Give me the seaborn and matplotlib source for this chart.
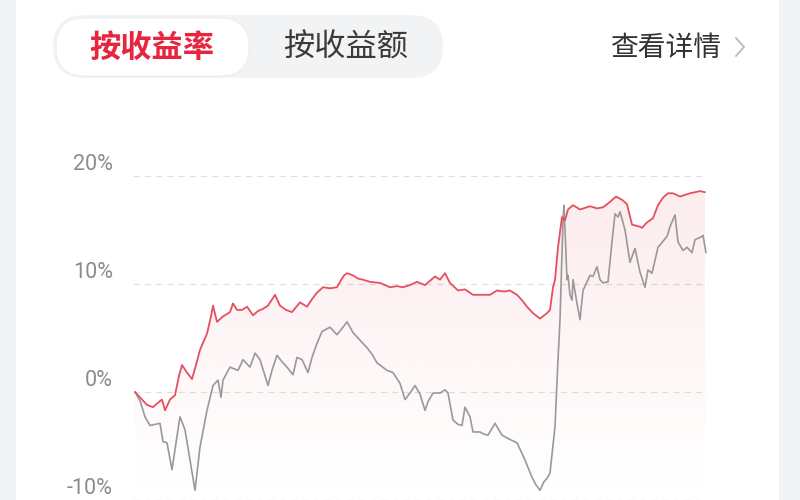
import numpy as np
import matplotlib
matplotlib.use("Agg")
import matplotlib.pyplot as plt
import seaborn as sns
import pandas as pd
from matplotlib.patches import FancyBboxPatch, Rectangle, Polygon

# ---------------- data ----------------
tabs = ["按收益率", "按收益额"]
detail_text = "查看详情"
y_ticks = [20, 10, 0, -10]
y_tick_labels = ["20%", "10%", "0%", "-10%"]

red_days = [0, 5, 12, 18, 23, 27, 30, 35, 40, 44, 47, 52, 57, 61, 65, 72, 76, 78, 82, 88,
            95, 98, 102, 107, 112, 118, 123, 128, 133, 140, 145, 151, 157, 165, 172, 177, 182, 188, 195, 202,
            205, 209, 212, 218, 223, 228, 235, 245, 250, 255, 262, 268, 275, 282, 290, 295, 300, 305, 310, 315,
            323, 330, 338, 347, 355, 362, 369, 375, 382, 387, 392, 398, 405, 412, 415, 418, 420, 423, 427, 430,
            433, 438, 445, 455, 462, 468, 475, 481, 487, 492, 497, 505, 507, 512, 518, 523, 528, 533, 538, 545,
            555, 565, 570]
red_vals = [0.0, -0.5, -1.2, -1.4, -1.0, -0.7, -1.7, -0.7, -0.3, 1.5, 2.5, 1.8, 1.2, 2.5, 3.9, 5.4, 7.0, 8.0, 6.5, 7.0,
            7.4, 8.2, 7.6, 7.6, 7.9, 7.1, 7.5, 7.7, 8.0, 9.0, 8.0, 7.6, 7.4, 8.3, 7.9, 8.6, 9.2, 9.7, 9.6, 9.7,
            10.2, 10.8, 11.0, 10.8, 10.5, 10.4, 10.2, 10.1, 9.9, 9.7, 9.8, 9.7, 9.9, 10.2, 9.9, 10.3, 10.7, 10.4, 11.0, 10.1,
            9.4, 9.5, 9.0, 9.0, 9.0, 9.4, 9.3, 9.4, 9.0, 8.5, 7.9, 7.3, 6.8, 7.3, 7.6, 9.7, 10.4, 13.4, 16.2, 15.9,
            16.9, 17.3, 16.9, 17.2, 17.0, 17.1, 17.6, 18.1, 17.8, 17.4, 15.5, 15.3, 15.2, 15.7, 16.1, 17.3, 18.0, 18.4, 18.4, 18.1,
            18.4, 18.6, 18.5]

gray_days = [0, 5, 10, 15, 20, 25, 28, 32, 37, 42, 45, 50, 55, 60, 65, 72, 78, 83, 86, 88,
             95, 103, 108, 115, 120, 125, 129, 133, 137, 142, 147, 152, 158, 162, 167, 173, 177, 182, 187, 195,
             202, 208, 212, 218, 225, 232, 237, 242, 252, 258, 265, 270, 275, 280, 285, 290, 293, 298, 305, 310,
             313, 318, 323, 327, 330, 335, 338, 345, 349, 353, 360, 367, 375, 382, 390, 397, 401, 405, 409, 412,
             415, 420, 423, 425, 428, 429, 432, 433, 435, 437, 438, 442, 445, 448, 455, 458, 462, 465, 468, 473,
             477, 480, 483, 485, 490, 495, 500, 505, 510, 513, 517, 523, 532, 535, 540, 543, 548, 552, 557, 560,
             567, 568, 571]
gray_vals = [0.0, -0.8, -2.3, -3.1, -3.0, -2.9, -4.6, -4.7, -7.2, -4.1, -2.3, -3.5, -6.3, -9.1, -5.1, -1.7, 0.6, 1.1, -0.5, 1.1,
             2.3, 2.0, 3.0, 2.3, 3.6, 3.0, 1.8, 0.6, 2.0, 3.4, 2.8, 2.3, 1.6, 3.2, 3.0, 1.8, 3.2, 4.5, 5.6, 6.0,
             5.3, 6.0, 6.5, 5.5, 4.8, 4.1, 3.5, 2.7, 2.0, 1.8, 0.8, -0.7, -0.1, 0.6, -0.2, -1.7, -0.9, -0.1, -0.1, 0.2,
             -0.1, -2.6, -3.0, -3.1, -1.4, -2.3, -3.7, -3.7, -3.9, -4.0, -2.9, -4.0, -4.4, -4.7, -6.3, -7.9, -8.6, -9.1, -8.3, -8.0,
             -7.5, -3.2, 3.0, 6.7, 15.9, 17.3, 10.4, 10.8, 9.0, 8.5, 10.4, 8.2, 6.7, 9.4, 10.8, 10.7, 11.6, 10.4, 10.1, 10.2,
             13.9, 16.5, 16.2, 16.7, 15.0, 12.0, 13.3, 11.1, 9.7, 11.3, 11.0, 13.4, 14.4, 15.3, 16.4, 13.9, 13.1, 13.4, 12.9, 14.1,
             14.4, 14.5, 12.9]

# ---------------- style ----------------
sns.set_theme(style="white")
plt.rcParams["font.family"] = ["Roboto", "Noto Sans CJK SC", "DejaVu Sans"]
CJK = ["Noto Sans CJK SC", "DejaVu Sans"]

RED = "#e5505f"
GRAY_LINE = "#999999"

fig = plt.figure(figsize=(8, 5), dpi=100)
fig.patch.set_facecolor("white")

# background / header layer in pixel coordinates
bg = fig.add_axes([0, 0, 1, 1], zorder=0)
bg.set_xlim(0, 800)
bg.set_ylim(500, 0)
bg.axis("off")
bg.add_patch(Rectangle((0, 0), 16, 500, color="#f2f3f5", lw=0))
bg.add_patch(Rectangle((779, 0), 21, 500, color="#f2f3f5", lw=0))

bg.add_patch(FancyBboxPatch((53, 15), 390, 63, boxstyle="round,pad=0,rounding_size=31.5",
                            fc="#f2f3f5", ec="none"))
bg.add_patch(FancyBboxPatch((56, 18), 193, 58, boxstyle="round,pad=0,rounding_size=29",
                            fc="white", ec="#ececec", lw=0.6))
bg.text(152, 48, tabs[0], family=CJK, fontsize=22.5, fontweight="bold", color="#e8253e",
        ha="center", va="center")
bg.text(346, 48, tabs[1], family=CJK, fontsize=22.5, color="#3a3a3a", ha="center", va="center")
bg.text(666, 48, detail_text, family=CJK, fontsize=20, color="#333333", ha="center", va="center")
bg.plot([736, 744, 736], [38, 47, 56], color="#bdbdbd", lw=1.4, solid_joinstyle="miter")

# ---------------- chart ----------------
ymin, ymax = -10.0, 21.0
ax_h = (500 - 165.2) / 500
ax = fig.add_axes([133 / 800, 0, 575 / 800, ax_h], zorder=1)
ax.set_facecolor("none")
ax.set_xlim(-2, 573)
ax.set_ylim(ymin, ymax)

for v in y_ticks:
    ax.axhline(v, color="#e0e0e0", lw=0.9, dashes=(5, 4), zorder=1)

red_df = pd.DataFrame({"day": red_days, "ret": red_vals})
gray_df = pd.DataFrame({"day": gray_days, "ret": gray_vals})

# gradient fill under the red line
poly_xy = np.column_stack([
    np.r_[red_df["day"].values, red_df["day"].values[-1], red_df["day"].values[0]],
    np.r_[red_df["ret"].values, ymin, ymin],
])
poly = Polygon(poly_xy, closed=True, fc="none", ec="none")
ax.add_patch(poly)
n = 256
alpha = np.linspace(0.0, 0.10, n)[:, None]
grad = np.zeros((n, 1, 4))
grad[..., 0] = 232 / 255
grad[..., 1] = 64 / 255
grad[..., 2] = 84 / 255
grad[..., 3] = alpha
top = max(red_vals)
im = ax.imshow(grad, aspect="auto", origin="lower",
               extent=[red_days[0], red_days[-1], ymin, top], zorder=2, interpolation="bilinear")
im.set_clip_path(poly)

sns.lineplot(data=gray_df, x="day", y="ret", ax=ax, color=GRAY_LINE, lw=1.2,
             estimator=None, sort=False, zorder=3)
sns.lineplot(data=red_df, x="day", y="ret", ax=ax, color=RED, lw=1.3,
             estimator=None, sort=False, zorder=4)

ax.set_xlim(-2, 573)
ax.set_ylim(ymin, ymax)
ax.set_xticks([])
ax.set_yticks([])
ax.set_xlabel("")
ax.set_ylabel("")
for s in ax.spines.values():
    s.set_visible(False)

for v, lab in zip(y_ticks, y_tick_labels):
    ax.text(-0.035, v + 1.1, lab, transform=ax.get_yaxis_transform(), ha="right", va="center",
            fontsize=15.5, color="#8c8c8c", family=["Roboto", "DejaVu Sans"])

fig.savefig("out.png", dpi=100, facecolor=fig.get_facecolor())
